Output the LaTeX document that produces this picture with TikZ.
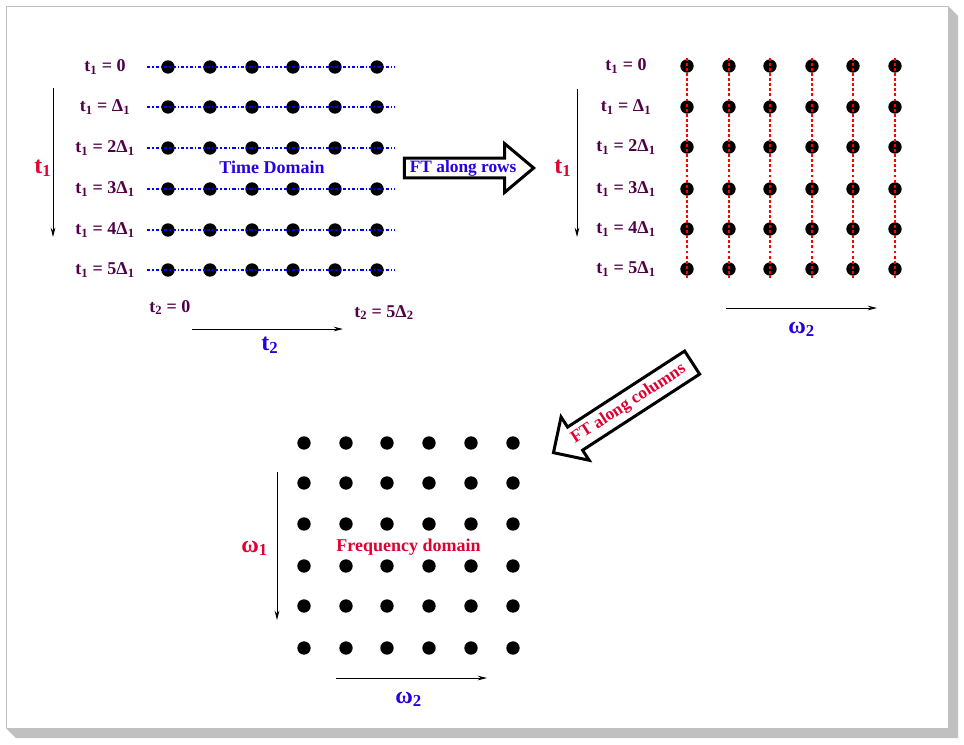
\documentclass[tikz,border=0pt]{standalone}
\usepackage{fontspec}
\setmainfont{Liberation Serif}
\usetikzlibrary{shapes.arrows,arrows.meta,calc}
\definecolor{labelc}{RGB}{80,0,72}
\definecolor{bluec}{RGB}{40,0,225}
\definecolor{redc}{RGB}{225,0,50}
\definecolor{lineblue}{RGB}{0,0,255}
\definecolor{linered}{RGB}{255,0,0}
\definecolor{framegray}{RGB}{192,192,192}
\begin{document}
\begin{tikzpicture}[x=0.75pt,y=-0.75pt,
  dot/.style={circle,fill=black,inner sep=0pt,minimum size=10pt},
  lbl/.style={font=\fontsize{13.5}{15}\selectfont\bfseries, text=labelc, inner sep=0pt, anchor=base},
  biglbl/.style={font=\fontsize{18}{21}\selectfont\bfseries, inner sep=0pt, anchor=base west},
  axis/.style={line width=0.75pt, -{Stealth[length=7pt,width=3.5pt]}},
  rowline/.style={draw=lineblue, line width=1pt, dash pattern=on 2.4pt off 1.5pt on 1pt off 1.5pt},
  colline/.style={draw=linered, line width=1pt, dash pattern=on 2.2pt off 1.6pt},
  blockarrow/.style={single arrow, draw=black, fill=white, line width=2.25pt,
    font=\fontsize{13}{15}\selectfont\bfseries, text height=9pt, text depth=2.6pt, inner xsep=1pt}
]
\useasboundingbox (0,0) rectangle (964,744);
\fill[white] (0,0) rectangle (964,744);
% frame
\fill[framegray] (948,6) -- (958,16) -- (958,738) -- (16,738) -- (6,728) -- (948,728) -- cycle;
\draw[framegray, line width=1.3pt] (6.6,728) -- (6.6,6.6) -- (948,6.6);

% ---------- left grid (time domain)
\foreach \y [count=\i from 0] in {67,107,148,189,230,270}
  \foreach \x [count=\j from 0] in {168,210,252,293,335,377}
    \node[dot] (A-\i-\j) at (\x,\y) {};
\foreach \i in {0,...,5}
  \draw[rowline] ($(A-\i-0)+(-21,0)$) -- ($(A-\i-5)+(18,0)$);
\foreach \i/\v in {0/0, 1/{Δ\textsubscript{1}}, 2/{2Δ\textsubscript{1}}, 3/{3Δ\textsubscript{1}}, 4/{4Δ\textsubscript{1}}, 5/{5Δ\textsubscript{1}}}
  \node[lbl] (lt-\i) at ($(A-\i-0)+(-63,4.5)$) {t\textsubscript{1} = \v};
\node[lbl, text=bluec] (timedom) at (272,173) {Time Domain};
\coordinate (la1s) at (53,88); \coordinate (la1e) at (53,237);
\draw[axis] (la1s) -- (la1e);
\node[biglbl, text=redc] (lt1) at (34,173) {t\textsubscript{1}};
\node[lbl, anchor=base west] (t20) at (149,312) {t\textsubscript{2} = 0};
\node[lbl, anchor=base west] (t25) at (354,317) {t\textsubscript{2} = 5Δ\textsubscript{2}};
\coordinate (la2s) at (192,329); \coordinate (la2e) at (343,329);
\draw[axis] (la2s) -- (la2e);
\node[biglbl, text=bluec] (lt2) at (261,350) {t\textsubscript{2}};

% ---------- FT along rows
\node[blockarrow, text=bluec, minimum height=97pt, single arrow head extend=11pt,
  single arrow tip angle=80, inner ysep=0.4pt, anchor=tip] (ftrows) at (536,168) {FT along rows};

% ---------- right grid
\foreach \y [count=\i from 0] in {66,107,147,189,229,269}
  \foreach \x [count=\j from 0] in {687,729,770,812,853,895}
    \node[dot] (B-\i-\j) at (\x,\y) {};
\foreach \j in {0,...,5}
  \draw[colline] ($(B-0-\j)+(0,-8)$) -- ($(B-5-\j)+(0,9)$);
\foreach \i/\v in {0/0, 1/{Δ\textsubscript{1}}, 2/{2Δ\textsubscript{1}}, 3/{3Δ\textsubscript{1}}, 4/{4Δ\textsubscript{1}}, 5/{5Δ\textsubscript{1}}}
  \node[lbl] (rt-\i) at ($(B-\i-0)+(-61,4.5)$) {t\textsubscript{1} = \v};
\coordinate (ra1s) at (577,89); \coordinate (ra1e) at (577,237);
\draw[axis] (ra1s) -- (ra1e);
\node[biglbl, text=redc] (rt1) at (554,173) {t\textsubscript{1}};
\coordinate (ra2s) at (726,308); \coordinate (ra2e) at (877,308);
\draw[axis] (ra2s) -- (ra2e);
\node[biglbl, text=bluec] (rw2) at (788,333) {ω\textsubscript{2}};

% ---------- FT along columns
\node[blockarrow, text=redc, shape border rotate=180, rotate=33, minimum height=124pt,
  single arrow head extend=9pt, inner ysep=3.4pt, anchor=tip] (ftcols) at (551.7,453.8) {FT along columns};

% ---------- bottom grid (frequency domain)
\foreach \y [count=\i from 0] in {443,483,524,566,606,648}
  \foreach \x [count=\j from 0] in {304,346,387,429,471,513}
    \node[dot] (C-\i-\j) at (\x,\y) {};
\node[lbl, text=redc] (freqdom) at (408.5,551) {Frequency domain};
\coordinate (ba1s) at (277,472); \coordinate (ba1e) at (277,620);
\draw[axis] (ba1s) -- (ba1e);
\node[biglbl, text=redc] (bw1) at (241,552) {ω\textsubscript{1}};
\coordinate (ba2s) at (336,678); \coordinate (ba2e) at (487,678);
\draw[axis] (ba2s) -- (ba2e);
\node[biglbl, text=bluec] (bw2) at (395,703) {ω\textsubscript{2}};
\end{tikzpicture}
\end{document}
